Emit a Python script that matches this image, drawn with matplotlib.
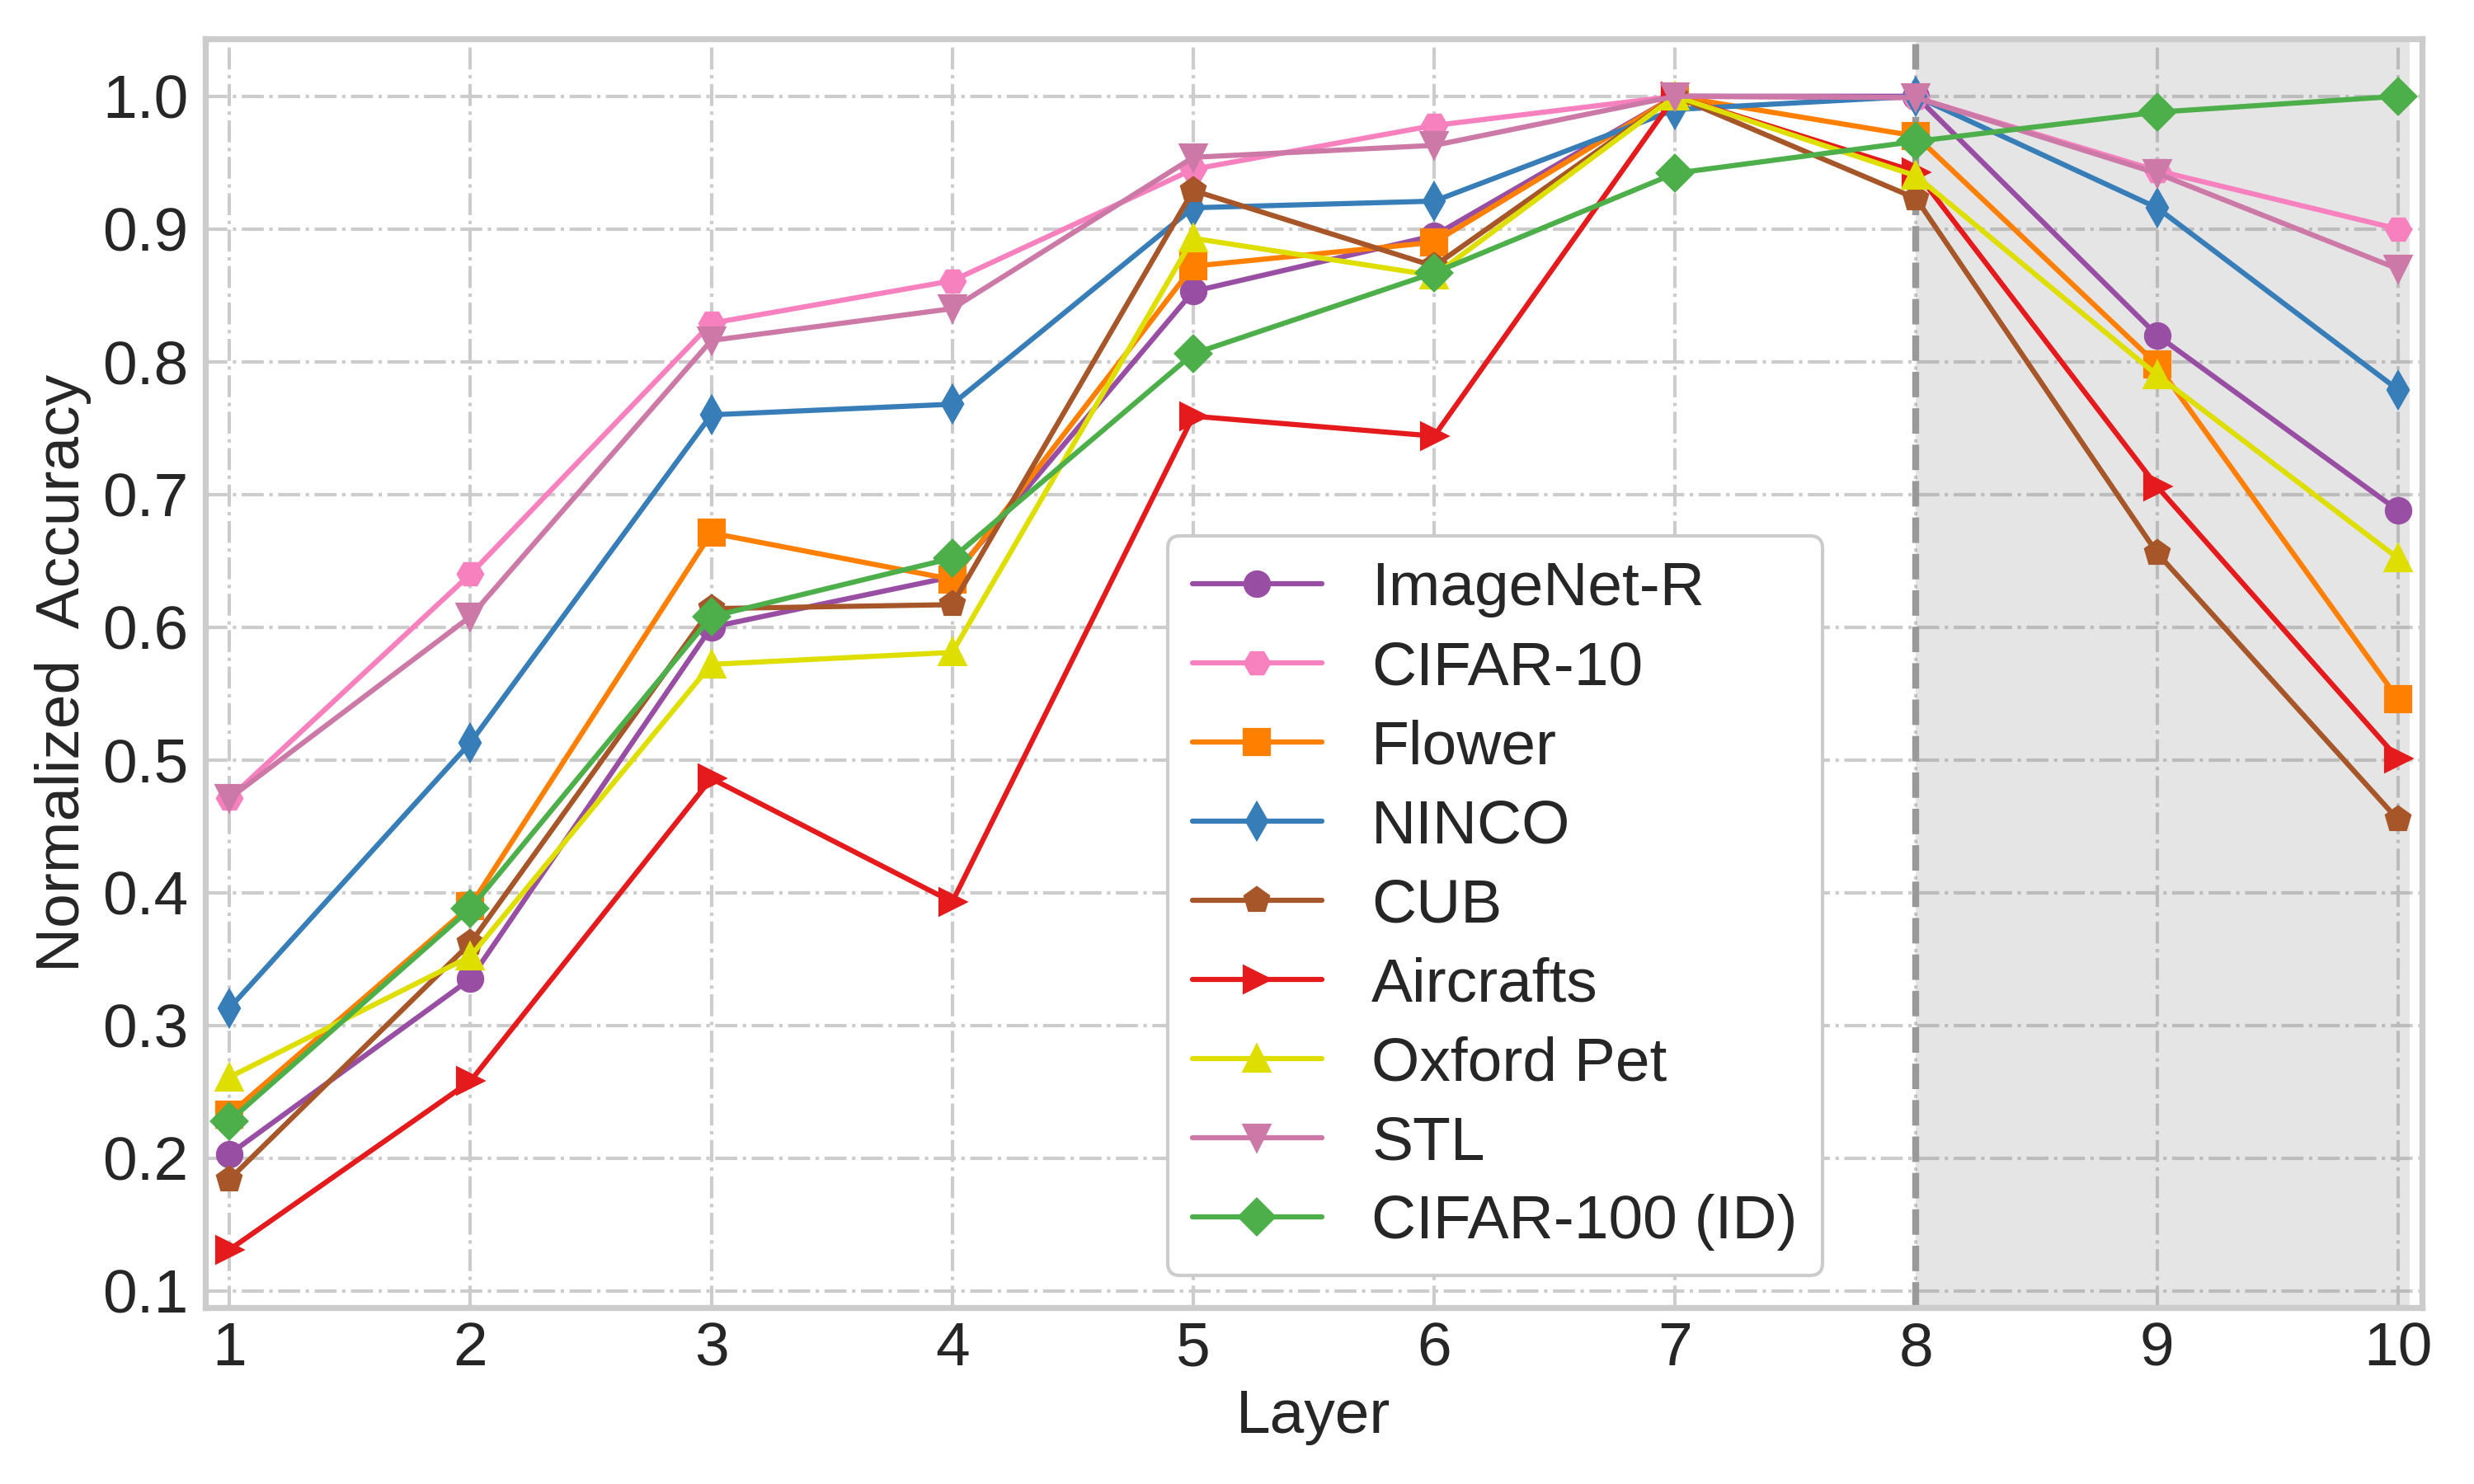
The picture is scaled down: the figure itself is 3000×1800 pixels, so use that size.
import matplotlib
matplotlib.use("Agg")
import matplotlib.pyplot as plt

layers = [1, 2, 3, 4, 5, 6, 7, 8, 9, 10]

imagenet_r = [0.203, 0.335, 0.600, 0.638, 0.853, 0.895, 1.000, 1.000, 0.820, 0.688]
cifar10    = [0.471, 0.640, 0.829, 0.861, 0.945, 0.978, 1.000, 0.999, 0.944, 0.900]
flower     = [0.233, 0.390, 0.671, 0.636, 0.872, 0.890, 1.000, 0.970, 0.798, 0.546]
ninco      = [0.313, 0.513, 0.760, 0.768, 0.916, 0.921, 0.990, 1.000, 0.916, 0.779]
cub        = [0.184, 0.362, 0.614, 0.617, 0.929, 0.872, 1.000, 0.923, 0.656, 0.455]
aircrafts  = [0.131, 0.258, 0.486, 0.393, 0.759, 0.744, 1.000, 0.943, 0.706, 0.501]
oxford_pet = [0.261, 0.352, 0.572, 0.581, 0.893, 0.865, 1.000, 0.940, 0.790, 0.652]
stl        = [0.471, 0.608, 0.816, 0.840, 0.954, 0.963, 1.000, 0.999, 0.942, 0.870]
cifar100   = [0.228, 0.388, 0.608, 0.652, 0.806, 0.867, 0.942, 0.966, 0.988, 1.000]

labels = ["ImageNet-R", "CIFAR-10", "Flower", "NINCO", "CUB", "Aircrafts",
          "Oxford Pet", "STL", "CIFAR-100 (ID)"]
series = [imagenet_r, cifar10, flower, ninco, cub, aircrafts, oxford_pet, stl, cifar100]
colors = ["#984ea3", "#f781bf", "#ff7f00", "#377eb8", "#a65628", "#e41a1c",
          "#dede00", "#cc79a7", "#4daf4a"]
markers = ["o", "H", "s", "d", "p", ">", "^", "v", "D"]

plt.style.use("seaborn-v0_8-whitegrid")
plt.rcParams["font.family"] = ["Liberation Sans", "DejaVu Sans"]
plt.rcParams["text.color"] = "#262626"
plt.rcParams["axes.labelcolor"] = "#262626"
plt.rcParams["xtick.color"] = "#262626"
plt.rcParams["ytick.color"] = "#262626"

fig, ax = plt.subplots(figsize=(10, 6), dpi=300)
fig.subplots_adjust(left=0.083, right=0.979, top=0.974, bottom=0.119)

ax.grid(True, linestyle="-.", linewidth=1.0, color="#cccccc")
ax.set_axisbelow(True)

for y, lab, c, m in zip(series, labels, colors, markers):
    ax.plot(layers, y, color=c, marker=m, markersize=7, linewidth=1.5,
            label=lab, zorder=3)

ax.axvspan(8, 10.05, color="gray", alpha=0.2, linewidth=0, zorder=1)
ax.axvline(8, color="#999999", linestyle="--", linewidth=2, zorder=1.5)

ax.set_xlim(0.9, 10.1)
ax.set_xticks(layers)
ax.set_yticks([0.1, 0.2, 0.3, 0.4, 0.5, 0.6, 0.7, 0.8, 0.9, 1.0])
ax.tick_params(axis="both", labelsize=18, length=0)
ax.tick_params(axis="x", pad=4)
ax.tick_params(axis="y", pad=5)
ax.set_xlabel("Layer", fontsize=18, labelpad=3)
ax.set_ylabel("Normalized  Accuracy", fontsize=18, labelpad=3)

for s in ax.spines.values():
    s.set_color("#cccccc")
    s.set_linewidth(1.75)

leg = ax.legend(loc="lower left", bbox_to_anchor=(0.434, 0.025), borderaxespad=0,
                fontsize=18, frameon=True, fancybox=True, framealpha=1.0,
                edgecolor="#cccccc", labelspacing=0.36, handlelength=2.1)
leg.get_frame().set_linewidth(1.0)

fig.savefig("out.png", dpi=300)
